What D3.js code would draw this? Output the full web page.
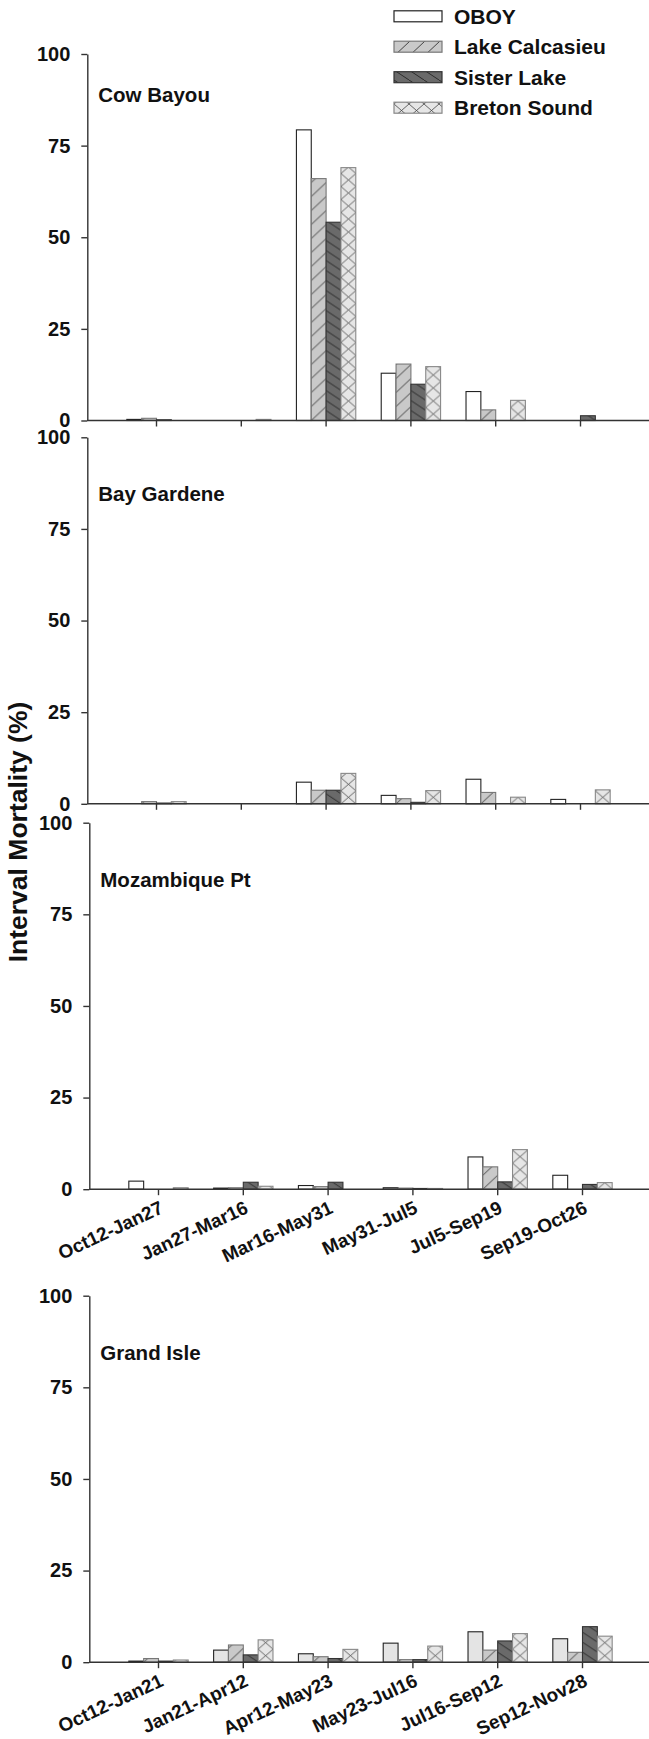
<!DOCTYPE html>
<html>
<head>
<meta charset="utf-8">
<script src="https://cdn.jsdelivr.net/npm/d3@7"></script>
<style>
  body { margin: 0; background: #fff; }
  text { font-family: "Liberation Sans", Arial, sans-serif; font-weight: bold; fill: #111; }
</style>
</head>
<body>
<div class="chart"></div>
<script>
// series + categories
let series = ['OBOY', 'Lake Calcasieu', 'Sister Lake', 'Breton Sound'];
let yTicks = [0, 25, 50, 75, 100];
let intervals = ['Oct12-Jan27', 'Jan27-Mar16', 'Mar16-May31', 'May31-Jul5', 'Jul5-Sep19', 'Sep19-Oct26'];
let intervalsGrandIsle = ['Oct12-Jan21', 'Jan21-Apr12', 'Apr12-May23', 'May23-Jul16', 'Jul16-Sep12', 'Sep12-Nov28'];

// interval mortality (%), one row per series (OBOY, Calcasieu, Sister, Breton)
let cowBayou = [
  [0.3, 0, 79.3, 12.9, 7.9, 0],
  [0.6, 0, 66.0, 15.4, 2.9, 0],
  [0.2, 0, 54.1, 9.9, 0, 1.3],
  [0, 0.3, 69.0, 14.7, 5.5, 0]
];
let bayGardene = [
  [0, 0, 5.9, 2.3, 6.7, 1.2],
  [0.6, 0, 3.7, 1.4, 3.1, 0],
  [0.2, 0, 3.7, 0.4, 0, 0],
  [0.6, 0, 8.3, 3.6, 1.8, 3.8]
];
let mozambiquePt = [
  [2.2, 0.3, 1.0, 0.4, 8.8, 3.8],
  [0, 0.4, 0.7, 0.3, 6.1, 0],
  [0, 1.9, 1.9, 0.2, 2.0, 1.3],
  [0.4, 0.8, 0, 0.2, 10.8, 1.8]
];
let grandIsle = [
  [0.3, 3.3, 2.3, 5.2, 8.3, 6.4],
  [1.0, 4.7, 1.5, 0.7, 3.3, 2.7],
  [0.3, 2.0, 1.0, 0.7, 5.8, 9.7],
  [0.6, 6.1, 3.5, 4.4, 7.8, 7.1]
];

let panels = [
  { site: 'Cow Bayou', values: cowBayou, labels: intervals, showLabels: false, top: 54, axisX: 87.3, titleDy: 48 },
  { site: 'Bay Gardene', values: bayGardene, labels: intervals, showLabels: false, top: 437.3, axisX: 87.3, titleDy: 64 },
  { site: 'Mozambique Pt', values: mozambiquePt, labels: intervals, showLabels: true, top: 822.7, axisX: 89.3, titleDy: 64 },
  { site: 'Grand Isle', values: grandIsle, labels: intervalsGrandIsle, showLabels: true, top: 1295.7, axisX: 89.3, titleDy: 64 }
];

let W = 649, H = 1739;
let panelH = 366.5;
let step = 84.8;

let svg = d3.select('.chart')
  .append('svg')
    .attr('width', W)
    .attr('height', H);

// hatch patterns
let defs = svg.append('defs');

let pCalc = defs.append('pattern')
  .attr('id', 'calc').attr('patternUnits', 'userSpaceOnUse')
  .attr('width', 15).attr('height', 14);
pCalc.append('rect').attr('width', 15).attr('height', 14).attr('fill', '#c9c9c9');
pCalc.append('path').attr('d', 'M-1,15 L16,-1').attr('stroke', '#333').attr('stroke-width', 0.9);

let pSister = defs.append('pattern')
  .attr('id', 'sister').attr('patternUnits', 'userSpaceOnUse')
  .attr('width', 15).attr('height', 10);
pSister.append('rect').attr('width', 15).attr('height', 10).attr('fill', '#6a6a6a');
pSister.append('path').attr('d', 'M-1.5,-1 L16.5,11').attr('stroke', '#222').attr('stroke-width', 0.9);

let pBreton = defs.append('pattern')
  .attr('id', 'breton').attr('patternUnits', 'userSpaceOnUse')
  .attr('width', 15).attr('height', 13);
pBreton.append('rect').attr('width', 15).attr('height', 13).attr('fill', '#e6e6e6');
pBreton.append('path').attr('d', 'M0,0 L15,13 M15,0 L0,13').attr('stroke', '#444').attr('stroke-width', 0.8);

let strokes = ['#222', '#777', '#333', '#888'];

function fillFor(i, site) {
  if (i === 0) return site === 'Grand Isle' ? '#e4e4e4' : '#fff';
  return ['', 'url(#calc)', 'url(#sister)', 'url(#breton)'][i];
}

panels.forEach(p => {
  let g = svg.append('g');
  let yScale = d3.scaleLinear().domain([0, 100]).range([p.top + panelH, p.top]);
  let start = p.axisX + 69.2 - step / 2;
  let x0 = d3.scaleBand()
    .domain(p.labels)
    .range([start, start + step * p.labels.length])
    .paddingInner(0.3)
    .paddingOuter(0.15);
  let x1 = d3.scaleBand().domain(series).range([0, x0.bandwidth()]);

  // bars (each in its own translated group so the hatch starts at the bar corner)
  series.forEach((s, si) => {
    p.values[si].forEach((v, ci) => {
      if (v <= 0) return;
      let bx = x0(p.labels[ci]) + x1(s);
      g.append('g')
        .attr('transform', `translate(${bx}, ${yScale(0)})`)
        .append('rect')
          .attr('x', 0)
          .attr('y', yScale(v) - yScale(0))
          .attr('width', x1.bandwidth())
          .attr('height', yScale(0) - yScale(v))
          .attr('fill', fillFor(si, p.site))
          .attr('stroke', strokes[si])
          .attr('stroke-width', 1.1);
    });
  });

  // y axis
  let yAxis = d3.axisLeft(yScale).tickValues(yTicks).tickSize(6).tickSizeOuter(0).tickPadding(11);
  let ya = g.append('g').attr('transform', `translate(${p.axisX}, 0)`).call(yAxis);
  ya.selectAll('path, line').attr('stroke', '#333').attr('stroke-width', 1.4);
  ya.selectAll('text').style('font-size', '20px').attr('fill', '#111');

  // x axis
  let xAxis = d3.axisBottom(x0).tickSize(6).tickSizeOuter(0)
    .tickFormat(d => p.showLabels ? d : '');
  let xa = g.append('g').attr('transform', `translate(0, ${yScale(0)})`).call(xAxis);
  xa.select('.domain').remove();
  xa.append('line')
    .attr('x1', p.axisX).attr('x2', W)
    .attr('y1', 0).attr('y2', 0);
  xa.selectAll('line').attr('stroke', '#333').attr('stroke-width', 1.4);
  xa.selectAll('text')
    .style('font-size', '19px')
    .attr('fill', '#111')
    .attr('text-anchor', 'end')
    .attr('x', 0).attr('y', 0).attr('dy', 0)
    .attr('transform', 'translate(6, 23) rotate(-25)');

  // site title
  g.append('text')
    .attr('x', p.axisX + 11)
    .attr('y', p.top + p.titleDy)
    .style('font-size', '20.5px')
    .text(p.site);
});

// y title
svg.append('text')
  .attr('transform', 'translate(27, 832) rotate(-90)')
  .attr('text-anchor', 'middle')
  .style('font-size', '26.5px')
  .text('Interval Mortality (%)');

// legend
let legend = svg.append('g').attr('transform', 'translate(394, 0)');
let legendY = [16.3, 46.7, 77.2, 107.7];
series.forEach((s, i) => {
  legend.append('rect')
    .attr('x', 0).attr('y', legendY[i] - 5.5)
    .attr('width', 48).attr('height', 11)
    .attr('fill', fillFor(i, ''))
    .attr('stroke', i === 0 ? '#222' : strokes[i])
    .attr('stroke-width', 1.2);
  legend.append('text')
    .attr('x', 60).attr('y', legendY[i] + 7.5)
    .style('font-size', '21px')
    .text(s);
});
</script>
</body>
</html>
